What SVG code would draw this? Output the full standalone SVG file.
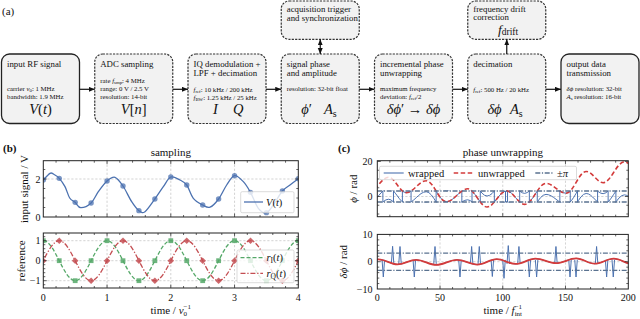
<svg xmlns="http://www.w3.org/2000/svg" xmlns:xlink="http://www.w3.org/1999/xlink" width="640" height="319" viewBox="0 0 640 319">
<style>
text{font-family:"Liberation Serif","DejaVu Serif",serif;fill:#111}
.box{fill:#f2f2f2;stroke:#222;stroke-width:1.3}
.dash{stroke:#333;stroke-width:1.2;stroke-dasharray:2.2 1.2}
.ttl{font-size:8.8px}
.sm{font-size:6.8px}
.big{font-size:14.5px}
.i{font-style:italic}
.frame{fill:none;stroke:#222;stroke-width:1}
.grid{fill:none;stroke:#b5b5b5;stroke-width:0.6;stroke-dasharray:2.2 1.8}
.tick{fill:none;stroke:#222;stroke-width:0.7}
.tl{font-size:10px}
.ax{font-size:11px}
.leg{fill:#fff;fill-opacity:0.8;stroke:#cccccc;stroke-width:0.7}
.lt{font-size:10.5px}
.conn{stroke:#111;stroke-width:1.2;fill:none}
</style>
<defs>
<marker id="ah" markerUnits="userSpaceOnUse" markerWidth="7" markerHeight="6" refX="6" refY="2.5" orient="auto-start-reverse"><path d="M0,0L6,2.5L0,5Z" fill="#111"/></marker>
<clipPath id="cb1"><rect x="43.3" y="160.7" width="255" height="56.3"/></clipPath>
<clipPath id="cb2"><rect x="43.3" y="233" width="255" height="55"/></clipPath>
<clipPath id="cc1"><rect x="377.3" y="160.7" width="251" height="56"/></clipPath>
<clipPath id="cc2"><rect x="377.3" y="234.4" width="251" height="54.6"/></clipPath>
<clipPath id="band"><rect x="377.3" y="190.4" width="251" height="12.2"/></clipPath>
<rect id="sq" x="-2.4" y="-2.4" width="4.8" height="4.8"/>
<path id="dm" d="M0,-3.3L3.3,0L0,3.3L-3.3,0Z"/>
<path id="unw" d="M368.52,192.13 C375.83,192.13 381.28,177.25 388.59,177.25 C394.98,177.25 399.76,192.65 406.15,192.65 C413.46,192.65 418.92,180.75 426.23,180.75 C433.54,180.75 438.99,201.75 446.30,201.75 C454.06,201.75 459.86,188.8 467.62,188.8 C474.70,188.8 479.99,207.0 487.07,207.0 C494.15,207.0 499.43,190.9 506.51,190.9 C513.13,190.9 518.08,204.38 524.70,204.38 C532.46,204.38 538.27,183.38 546.03,183.38 C553.34,183.38 558.79,193.18 566.10,193.18 C573.41,193.18 578.86,171.48 586.17,171.48 C592.34,171.48 596.94,182.68 603.11,182.68 C610.87,182.68 616.68,161.85 624.44,161.85 C631.29,161.85 636.40,175.5 643.25,175.5"/>
<path id="dphi" d="M358.48,264.43 C365.79,264.43 371.24,259.43 378.55,259.43 C385.40,259.43 390.52,264.40 397.37,264.40 C404.22,264.40 409.34,259.87 416.19,259.87 C423.50,259.87 428.95,264.92 436.26,264.92 C443.79,264.92 449.43,259.84 456.96,259.84 C464.38,259.84 469.93,264.57 477.35,264.57 C484.43,264.57 489.71,259.16 496.79,259.16 C503.64,259.16 508.76,263.97 515.61,263.97 C522.80,263.97 528.18,258.67 535.37,258.67 C542.90,258.67 548.54,263.20 556.07,263.20 C563.38,263.20 568.83,258.37 576.14,258.37 C582.88,258.37 587.91,263.72 594.65,263.72 C601.61,263.72 606.82,258.70 613.78,258.70 C621.09,258.70 626.54,264.43 633.85,264.43"/>
</defs>

<text x="2" y="15" style="font-size:11px">(a)</text>

<g id="node-input">
<rect class="box" x="1.5" y="54" width="78" height="69.5" rx="8"/>
<text class="ttl" x="7" y="66.5">input RF signal</text>
<text class="sm" x="7" y="91">carrier <tspan class="i">ν</tspan><tspan font-size="4.8" dy="1.4">0</tspan><tspan dy="-1.4">: 1 MHz</tspan></text>
<text class="sm" x="7" y="98.5">bandwidth: 1.9 MHz</text>
<text class="big" x="40.5" y="114" text-anchor="middle"><tspan class="i">V</tspan>(<tspan class="i">t</tspan>)</text>
</g>

<g id="node-adc">
<rect class="box dash" x="94.75" y="54" width="78" height="69.5" rx="8"/>
<text class="ttl" x="100.25" y="66.5">ADC sampling</text>
<text class="sm" x="100.25" y="82.7">rate <tspan class="i">f</tspan><tspan font-size="4.8" dy="1.4">smp</tspan><tspan dy="-1.4">: 4 MHz</tspan></text>
<text class="sm" x="100.25" y="91">range: 0 V / 2.5 V</text>
<text class="sm" x="100.25" y="99.3">resolution: 14-bit</text>
<text class="big" x="133.75" y="114" text-anchor="middle"><tspan class="i">V</tspan>[<tspan class="i">n</tspan>]</text>
</g>

<g id="node-iq">
<rect class="box dash" x="188" y="54" width="78" height="69.5" rx="8"/>
<text class="ttl" x="193.5" y="66.5">IQ demodulation +</text>
<text class="ttl" x="193.5" y="75.5">LPF + decimation</text>
<text class="sm" x="193.5" y="92"><tspan class="i">f</tspan><tspan font-size="4.8" dy="1.4">ref</tspan><tspan dy="-1.4">: 10 kHz / 200 kHz</tspan></text>
<text class="sm" x="193.5" y="99.5"><tspan class="i">f</tspan><tspan font-size="4.8" dy="1.4">BW</tspan><tspan dy="-1.4">: 1.25 kHz / 25 kHz</tspan></text>
<text class="big i" x="215.5" y="114" text-anchor="middle">I</text>
<text class="big i" x="238.3" y="114" text-anchor="middle">Q</text>
</g>

<g id="node-phase">
<rect class="box dash" x="281.25" y="54" width="78" height="69.5" rx="8"/>
<text class="ttl" x="286.75" y="66.5">signal phase</text>
<text class="ttl" x="286.75" y="75.5">and amplitude</text>
<text class="sm" x="286.75" y="91">resolution: 32-bit float</text>
<text class="big" x="306.5" y="114" text-anchor="middle"><tspan class="i">ϕ</tspan>′</text>
<text class="big" x="324" y="114"><tspan class="i">A</tspan><tspan font-size="10" dy="2.5">s</tspan></text>
</g>

<g id="node-unwrap">
<rect class="box dash" x="374.5" y="54" width="78" height="69.5" rx="8"/>
<text class="ttl" x="380" y="66.5">incremental phase</text>
<text class="ttl" x="380" y="75.5">unwrapping</text>
<text class="sm" x="380" y="91">maximum frequency</text>
<text class="sm" x="380" y="98.8">deviation: <tspan class="i">f</tspan><tspan font-size="4.8" dy="1.4">ref</tspan><tspan dy="-1.4">/2</tspan></text>
<text class="big" x="413.5" y="114" text-anchor="middle"><tspan class="i">δϕ</tspan>′ → <tspan class="i">δϕ</tspan></text>
</g>

<g id="node-decim">
<rect class="box dash" x="467.75" y="54" width="78" height="69.5" rx="8"/>
<text class="ttl" x="473.25" y="66.5">decimation</text>
<text class="sm" x="473.25" y="91.5"><tspan class="i">f</tspan><tspan font-size="4.8" dy="1.4">ref</tspan><tspan dy="-1.4">: 500 Hz / 20 kHz</tspan></text>
<text class="big i" x="494.5" y="114" text-anchor="middle">δϕ</text>
<text class="big" x="510" y="114"><tspan class="i">A</tspan><tspan font-size="10" dy="2.5">s</tspan></text>
</g>

<g id="node-output">
<rect class="box" x="561" y="54" width="78" height="69.5" rx="8"/>
<text class="ttl" x="566.5" y="66.5">output data</text>
<text class="ttl" x="566.5" y="75.5">transmission</text>
<text class="sm" x="566.5" y="91"><tspan class="i">δϕ</tspan> resolution: 32-bit</text>
<text class="sm" x="566.5" y="98.8"><tspan class="i">A</tspan><tspan font-size="4.8" dy="1.4">s</tspan><tspan dy="-1.4"> resolution: 16-bit</tspan></text>
</g>

<g id="node-trigger">
<rect class="box dash" x="281.25" y="1" width="78" height="38.3" rx="8"/>
<text class="ttl" x="286.75" y="11.8">acquisition trigger</text>
<text class="ttl" x="286.75" y="20.6">and synchronization</text>
</g>

<g id="node-drift">
<rect class="box dash" x="467.75" y="1" width="78" height="38.3" rx="8"/>
<text class="ttl" x="473.25" y="11.5">frequency drift</text>
<text class="ttl" x="473.25" y="20.3">correction</text>
<text style="font-size:13.5px" x="498" y="33.6"><tspan class="i">f</tspan><tspan font-size="9.5" dy="1.5">drift</tspan></text>
</g>

<g id="connectors">
<path class="conn" marker-end="url(#ah)" d="M79.5,89.3H94.75"/>
<path class="conn" marker-end="url(#ah)" d="M172.75,89.3H188"/>
<path class="conn" marker-end="url(#ah)" d="M266,89.3H281.25"/>
<path class="conn" marker-end="url(#ah)" d="M359.25,89.3H374.5"/>
<path class="conn" marker-end="url(#ah)" d="M452.5,89.3H467.75"/>
<path class="conn" marker-end="url(#ah)" d="M545.75,89.3H561"/>
<path class="conn" marker-start="url(#ah)" marker-end="url(#ah)" d="M320.25,39.3V54"/>
<path class="conn" marker-end="url(#ah)" d="M506.75,54V39.3"/>
</g>

<g id="panel-b">
<text x="3" y="152" style="font-size:11px;font-weight:bold">(b)</text>
<text class="ax" x="170.8" y="156" text-anchor="middle">sampling</text>
<text class="ax" transform="translate(27.5,189) rotate(-90)" text-anchor="middle">input signal / V</text>
<text class="ax" transform="translate(24.5,260.7) rotate(-90)" text-anchor="middle">reference</text>
<path class="grid" d="M107.05,160.7V217M170.8,160.7V217M234.55,160.7V217M43.3,179H298.3"/>
<path class="grid" d="M107.05,233V288M170.8,233V288M234.55,233V288M43.3,240.7H298.3M43.3,260.7H298.3M43.3,280.7H298.3"/>
<g clip-path="url(#cb1)">
<path fill="none" stroke="#4c72b0" stroke-width="1.3" d="M43.3,180 C44.42,178.89 48.33,174.33 50,173.33 C51.67,172.33 51.79,173.17 53.33,174 C54.87,174.83 57.3,176.22 59.24,178.33 C61.19,180.44 63.26,183.39 65,186.67 C66.74,189.95 68,195.39 69.7,198 C71.4,200.61 73.35,200.72 75.18,202.33 C77.01,203.94 78.05,207.56 80.7,207.67 C83.36,207.78 88.17,205.67 91.11,203 C94.05,200.33 95.67,195.34 98.33,191.67 C100.99,188 104.27,183.39 107.05,181 C109.83,178.61 112.34,176.5 115,177.33 C117.66,178.16 120.21,181.94 122.99,186 C125.77,190.06 129.01,197.56 131.67,201.67 C134.33,205.78 136.71,209 138.93,210.67 C141.15,212.34 142.35,213.62 145,211.67 C147.66,209.73 151.81,203.17 154.86,199 C157.92,194.83 160.67,190.34 163.33,186.67 C165.99,183 168.02,178.11 170.8,177 C173.58,175.89 177.34,178.67 180,180 C182.66,181.33 184.52,181.95 186.74,185 C188.96,188.06 190.67,195 193.33,198.33 C195.99,201.66 199.9,203.52 202.68,205 C205.46,206.48 207.35,208.2 210,207.2 C212.66,206.2 215.83,202.7 218.61,199 C221.39,195.3 224.01,188.89 226.67,185 C229.33,181.11 231.77,176.23 234.55,175.67 C237.33,175.12 240.67,178.89 243.33,181.67 C245.99,184.45 247.99,187.89 250.49,192.33 C252.99,196.77 255.67,204.94 258.33,208.33 C260.99,211.72 263.93,213.23 266.43,212.67 C268.93,212.12 270.68,208.61 273.33,205 C275.99,201.39 279.58,194.33 282.36,191 C285.14,187.67 287.34,187.06 290,185 C292.66,182.95 296.92,179.73 298.3,178.67"/>
<g fill="#4c72b0" fill-opacity="0.75">
<circle cx="43.3" cy="180" r="2.7"/><circle cx="59.24" cy="178.33" r="2.7"/><circle cx="75.18" cy="202.33" r="2.7"/><circle cx="91.11" cy="203" r="2.7"/><circle cx="107.05" cy="181" r="2.7"/><circle cx="122.99" cy="186" r="2.7"/><circle cx="138.93" cy="210.67" r="2.7"/><circle cx="154.86" cy="199" r="2.7"/><circle cx="170.8" cy="177" r="2.7"/><circle cx="186.74" cy="185" r="2.7"/><circle cx="202.68" cy="205" r="2.7"/><circle cx="218.61" cy="199" r="2.7"/><circle cx="234.55" cy="175.67" r="2.7"/><circle cx="250.49" cy="192.33" r="2.7"/><circle cx="266.43" cy="212.67" r="2.7"/><circle cx="282.36" cy="191" r="2.7"/><circle cx="298.3" cy="178.67" r="2.7"/>
</g>
</g>
<g clip-path="url(#cb2)">
<path fill="none" stroke="#55a868" stroke-width="1.3" stroke-dasharray="4 2" d="M43.3,240.7 C54.9,240.7 63.575,280.7 75.175,280.7 C86.775,280.7 95.45,240.7 107.05,240.7 C118.65,240.7 127.325,280.7 138.925,280.7 C150.525,280.7 159.2,240.7 170.8,240.7 C182.4,240.7 191.075,280.7 202.675,280.7 C214.275,280.7 222.95,240.7 234.55,240.7 C246.15,240.7 254.825,280.7 266.425,280.7 C278.025,280.7 286.7,240.7 298.3,240.7"/>
<path fill="none" stroke="#c44e52" stroke-width="1.3" stroke-dasharray="5 1.8 1.3 1.8" d="M27.36,280.7 C38.96,280.7 47.64,240.7 59.24,240.7 C70.84,240.7 79.51,280.7 91.11,280.7 C102.71,280.7 111.39,240.7 122.99,240.7 C134.59,240.7 143.26,280.7 154.86,280.7 C166.46,280.7 175.14,240.7 186.74,240.7 C198.34,240.7 207.01,280.7 218.61,280.7 C230.21,280.7 238.89,240.7 250.49,240.7 C262.09,240.7 270.76,280.7 282.36,280.7 C293.96,280.7 302.64,240.7 314.24,240.7"/>
<g fill="#55a868" fill-opacity="0.85">
<use href="#sq" x="43.3" y="240.7"/><use href="#sq" x="59.24" y="260.7"/><use href="#sq" x="75.18" y="280.7"/><use href="#sq" x="91.11" y="260.7"/><use href="#sq" x="107.05" y="240.7"/><use href="#sq" x="122.99" y="260.7"/><use href="#sq" x="138.93" y="280.7"/><use href="#sq" x="154.86" y="260.7"/><use href="#sq" x="170.8" y="240.7"/><use href="#sq" x="186.74" y="260.7"/><use href="#sq" x="202.68" y="280.7"/><use href="#sq" x="218.61" y="260.7"/><use href="#sq" x="234.55" y="240.7"/><use href="#sq" x="250.49" y="260.7"/><use href="#sq" x="266.43" y="280.7"/><use href="#sq" x="282.36" y="260.7"/><use href="#sq" x="298.3" y="240.7"/>
</g>
<g fill="#c44e52" fill-opacity="0.85">
<use href="#dm" x="43.3" y="260.7"/><use href="#dm" x="59.24" y="240.7"/><use href="#dm" x="75.18" y="260.7"/><use href="#dm" x="91.11" y="280.7"/><use href="#dm" x="107.05" y="260.7"/><use href="#dm" x="122.99" y="240.7"/><use href="#dm" x="138.93" y="260.7"/><use href="#dm" x="154.86" y="280.7"/><use href="#dm" x="170.8" y="260.7"/><use href="#dm" x="186.74" y="240.7"/><use href="#dm" x="202.68" y="260.7"/><use href="#dm" x="218.61" y="280.7"/><use href="#dm" x="234.55" y="260.7"/><use href="#dm" x="250.49" y="240.7"/><use href="#dm" x="266.43" y="260.7"/><use href="#dm" x="282.36" y="280.7"/><use href="#dm" x="298.3" y="260.7"/>
</g>
</g>
<rect class="frame" x="43.3" y="160.7" width="255" height="56.3"/>
<rect class="frame" x="43.3" y="233" width="255" height="55"/>
<path class="tick" d="M107.05,217v-3.5M107.05,160.7v3.5M170.8,217v-3.5M170.8,160.7v3.5M234.55,217v-3.5M234.55,160.7v3.5M43.3,179h3.5M298.3,179h-3.5
M107.05,288v-3.5M107.05,233v3.5M170.8,288v-3.5M170.8,233v3.5M234.55,288v-3.5M234.55,233v3.5M43.3,240.7h3.5M298.3,240.7h-3.5M43.3,260.7h3.5M298.3,260.7h-3.5M43.3,280.7h3.5M298.3,280.7h-3.5"/>
<path class="tick" stroke-width="0.5" d="M56.05,217v-2M68.8,217v-2M81.55,217v-2M94.3,217v-2M119.8,217v-2M132.55,217v-2M145.3,217v-2M158.05,217v-2M183.55,217v-2M196.3,217v-2M209.05,217v-2M221.8,217v-2M247.3,217v-2M260.05,217v-2M272.8,217v-2M285.55,217v-2
M56.05,160.7v2M68.8,160.7v2M81.55,160.7v2M94.3,160.7v2M119.8,160.7v2M132.55,160.7v2M145.3,160.7v2M158.05,160.7v2M183.55,160.7v2M196.3,160.7v2M209.05,160.7v2M221.8,160.7v2M247.3,160.7v2M260.05,160.7v2M272.8,160.7v2M285.55,160.7v2
M56.05,288v-2M68.8,288v-2M81.55,288v-2M94.3,288v-2M119.8,288v-2M132.55,288v-2M145.3,288v-2M158.05,288v-2M183.55,288v-2M196.3,288v-2M209.05,288v-2M221.8,288v-2M247.3,288v-2M260.05,288v-2M272.8,288v-2M285.55,288v-2
M56.05,233v2M68.8,233v2M81.55,233v2M94.3,233v2M119.8,233v2M132.55,233v2M145.3,233v2M158.05,233v2M183.55,233v2M196.3,233v2M209.05,233v2M221.8,233v2M247.3,233v2M260.05,233v2M272.8,233v2M285.55,233v2
M43.3,207.5h2M43.3,198h2M43.3,188.5h2M43.3,169.5h2M298.3,207.5h-2M298.3,198h-2M298.3,188.5h-2M298.3,169.5h-2
M43.3,236.7h2M43.3,244.7h2M43.3,248.7h2M43.3,252.7h2M43.3,256.7h2M43.3,264.7h2M43.3,268.7h2M43.3,272.7h2M43.3,276.7h2M43.3,284.7h2
M298.3,236.7h-2M298.3,244.7h-2M298.3,248.7h-2M298.3,252.7h-2M298.3,256.7h-2M298.3,264.7h-2M298.3,268.7h-2M298.3,272.7h-2M298.3,276.7h-2M298.3,284.7h-2"/>
<rect class="leg" x="240.7" y="191.7" width="53.3" height="21" rx="1.5"/>
<path d="M244,202H263" stroke="#4c72b0" stroke-width="1.3"/>
<text class="lt" x="266" y="205.8"><tspan class="i">V</tspan>(<tspan class="i">t</tspan>)</text>
<rect class="leg" x="237" y="250" width="57" height="32.7" rx="1.5"/>
<path d="M240.5,257.7H263" stroke="#55a868" stroke-width="1.3" stroke-dasharray="4 2"/>
<path d="M240.5,273.3H263" stroke="#c44e52" stroke-width="1.3" stroke-dasharray="5 1.8 1.3 1.8"/>
<text class="lt" x="266.5" y="261.3"><tspan class="i">r</tspan><tspan font-size="7.5" dy="2">I</tspan><tspan dy="-2">(</tspan><tspan class="i">t</tspan>)</text>
<text class="lt" x="266.5" y="276.9"><tspan class="i">r</tspan><tspan font-size="7.5" dy="2">Q</tspan><tspan dy="-2">(</tspan><tspan class="i">t</tspan>)</text>
<g text-anchor="end">
<text class="tl" x="40.5" y="182.5">2</text><text class="tl" x="40.5" y="220.5">0</text>
<text class="tl" x="40.5" y="244.2">1</text><text class="tl" x="40.5" y="264.2">0</text><text class="tl" x="40.5" y="284.2">−1</text>
</g>
<g text-anchor="middle">
<text class="tl" x="43.3" y="301">0</text><text class="tl" x="107.05" y="301">1</text><text class="tl" x="170.8" y="301">2</text><text class="tl" x="234.55" y="301">3</text><text class="tl" x="298.3" y="301">4</text>
</g>
<text class="ax" x="170.8" y="313.5" text-anchor="middle">time / <tspan class="i">ν</tspan><tspan font-size="7" dy="-5">−1</tspan><tspan font-size="7" dx="-7.45" dy="7.6">0</tspan></text>
</g>

<g id="panel-c">
<text x="338" y="152" style="font-size:11px;font-weight:bold">(c)</text>
<text class="ax" x="502.8" y="156" text-anchor="middle">phase unwrapping</text>
<text class="ax" transform="translate(357,188.7) rotate(-90)" text-anchor="middle"><tspan class="i">ϕ</tspan> / rad</text>
<text class="ax" transform="translate(347,261.7) rotate(-90)" text-anchor="middle"><tspan class="i">δϕ</tspan> / rad</text>
<path class="grid" d="M440.03,160.7V216.7M502.75,160.7V216.7M565.48,160.7V216.7M377.3,196.5H628.3"/>
<path class="grid" d="M440.03,234.4V289M502.75,234.4V289M565.48,234.4V289M377.3,261.7H628.3"/>
<g clip-path="url(#band)" fill="none" stroke="#4c72b0" stroke-width="1">
<use href="#unw" transform="translate(0,-10.996)"/>
<use href="#unw"/>
<use href="#unw" transform="translate(0,10.996)"/>
<use href="#unw" transform="translate(0,21.991)"/>
<use href="#unw" transform="translate(0,32.987)"/>
</g>
<path fill="none" stroke="#4c72b0" stroke-width="1" d="M382.88,191V202M393.48,191V202M402.39,191V202M411.05,191V202M436.14,191V202M461.85,191V202M472.01,191V202M480.29,191V202M494.34,191V202M505.51,191V202M507.52,191V202M519.69,191V202M529.35,191V202M537.25,191V202M559.83,191V202M570.24,191V202M577.52,191V202M597.59,191V202M608.13,191V202M615.9,191V202"/>
<g clip-path="url(#cc1)">
<use href="#unw" fill="none" stroke="#d33b3b" stroke-width="1.6" stroke-dasharray="4.5 2.5"/>
</g>
<path fill="none" stroke="#5a7290" stroke-width="1.3" stroke-dasharray="5 1.6 1.2 1.6" d="M377.3,191H628.3M377.3,202H628.3"/>
<g clip-path="url(#cc2)">
<use href="#dphi" fill="none" stroke="#4c72b0" stroke-width="1"/>
<path fill="none" stroke="#4c72b0" stroke-width="1" stroke-linejoin="round" d="M382.07,259.9L383.32,277L384.57,259.9M413.06,259.9L414.31,277L415.56,259.9M458.72,259.9L459.97,277L461.22,259.9M491.09,259.9L492.34,276.5L493.59,259.9M502.75,259.9L504,278.3L505.25,259.9M528.09,259.9L529.34,277L530.59,259.9M535.37,259.9L536.62,277L537.87,259.9M568.75,259.9L570,277L571.25,259.9M574.77,259.9L576.02,277L577.27,259.9M605.38,259.9L606.63,277L607.88,259.9M612.03,259.9L613.28,277L614.53,259.9
M391.35,263.9L392.6,246.3L393.85,263.9M398.76,263.9L400.01,246.5L401.26,263.9M433.76,263.9L435.01,246.5L436.26,263.9M470.39,263.9L471.64,246.5L472.89,263.9M478.04,263.9L479.29,246.5L480.54,263.9M507.02,263.9L508.27,245.6L509.52,263.9M517.68,263.9L518.93,246.5L520.18,263.9M554.69,263.9L555.94,246.5L557.19,263.9M595.34,263.9L596.59,246.5L597.84,263.9"/>
<use href="#dphi" fill="none" stroke="#d33b3b" stroke-width="1.8"/>
</g>
<path fill="none" stroke="#5a7290" stroke-width="1.3" stroke-dasharray="5 1.6 1.2 1.6" d="M377.3,253.12H628.3M377.3,270.28H628.3"/>
<rect class="frame" x="377.3" y="160.7" width="251" height="56"/>
<rect class="frame" x="377.3" y="234.4" width="251" height="54.6"/>
<path class="tick" d="M440.03,216.7v-3.5M440.03,160.7v3.5M502.75,216.7v-3.5M502.75,160.7v3.5M565.48,216.7v-3.5M565.48,160.7v3.5M377.3,196.5h3.5M628.3,196.5h-3.5M377.3,161.5h3.5M628.3,161.5h-3.5
M440.03,289v-3.5M440.03,234.4v3.5M502.75,289v-3.5M502.75,234.4v3.5M565.48,289v-3.5M565.48,234.4v3.5M377.3,261.7h3.5M628.3,261.7h-3.5"/>
<path class="tick" stroke-width="0.5" d="M389.85,216.7v-2M402.39,216.7v-2M414.94,216.7v-2M427.48,216.7v-2M452.57,216.7v-2M465.12,216.7v-2M477.66,216.7v-2M490.21,216.7v-2M515.3,216.7v-2M527.84,216.7v-2M540.39,216.7v-2M552.93,216.7v-2M578.02,216.7v-2M590.57,216.7v-2M603.11,216.7v-2M615.66,216.7v-2
M389.85,160.7v2M402.39,160.7v2M414.94,160.7v2M427.48,160.7v2M452.57,160.7v2M465.12,160.7v2M477.66,160.7v2M490.21,160.7v2M515.3,160.7v2M527.84,160.7v2M540.39,160.7v2M552.93,160.7v2M578.02,160.7v2M590.57,160.7v2M603.11,160.7v2M615.66,160.7v2
M389.85,289v-2M402.39,289v-2M414.94,289v-2M427.48,289v-2M452.57,289v-2M465.12,289v-2M477.66,289v-2M490.21,289v-2M515.3,289v-2M527.84,289v-2M540.39,289v-2M552.93,289v-2M578.02,289v-2M590.57,289v-2M603.11,289v-2M615.66,289v-2
M389.85,234.4v2M402.39,234.4v2M414.94,234.4v2M427.48,234.4v2M452.57,234.4v2M465.12,234.4v2M477.66,234.4v2M490.21,234.4v2M515.3,234.4v2M527.84,234.4v2M540.39,234.4v2M552.93,234.4v2M578.02,234.4v2M590.57,234.4v2M603.11,234.4v2M615.66,234.4v2
M377.3,214h2M377.3,205.25h2M377.3,187.75h2M377.3,179h2M377.3,170.25h2M628.3,214h-2M628.3,205.25h-2M628.3,187.75h-2M628.3,179h-2M628.3,170.25h-2
M377.3,239.86h2M377.3,245.32h2M377.3,250.78h2M377.3,256.24h2M377.3,267.16h2M377.3,272.62h2M377.3,278.08h2M377.3,283.54h2
M628.3,239.86h-2M628.3,245.32h-2M628.3,250.78h-2M628.3,256.24h-2M628.3,267.16h-2M628.3,272.62h-2M628.3,278.08h-2M628.3,283.54h-2"/>
<rect class="leg" x="379.5" y="166.3" width="197" height="13.4" rx="1.5"/>
<path d="M383.7,173H403.7" stroke="#4c72b0" stroke-width="1.1"/>
<path d="M453.7,173H473.7" stroke="#d33b3b" stroke-width="1.6" stroke-dasharray="4.5 2.5"/>
<path d="M535.3,173H553.7" stroke="#5a7290" stroke-width="1.3" stroke-dasharray="5 1.6 1.2 1.6"/>
<text class="lt" x="408" y="176.5">wrapped</text>
<text class="lt" x="478" y="176.5">unwrapped</text>
<text class="lt" x="557" y="176.5">±<tspan class="i">π</tspan></text>
<g text-anchor="end">
<text class="tl" x="372.5" y="165">20</text><text class="tl" x="372.5" y="200">0</text>
<text class="tl" x="372.5" y="238">10</text><text class="tl" x="372.5" y="265.2">0</text><text class="tl" x="372.5" y="292.5">−10</text>
</g>
<g text-anchor="middle">
<text class="tl" x="377.3" y="301">0</text><text class="tl" x="440.03" y="301">50</text><text class="tl" x="502.75" y="301">100</text><text class="tl" x="565.48" y="301">150</text><text class="tl" x="628.3" y="301">200</text>
</g>
<text class="ax" x="502.8" y="313.5" text-anchor="middle">time / <tspan class="i">f</tspan><tspan font-size="7" dy="-5">−1</tspan><tspan font-size="7" dx="-7.45" dy="7.6">int</tspan></text>
</g>
</svg>
